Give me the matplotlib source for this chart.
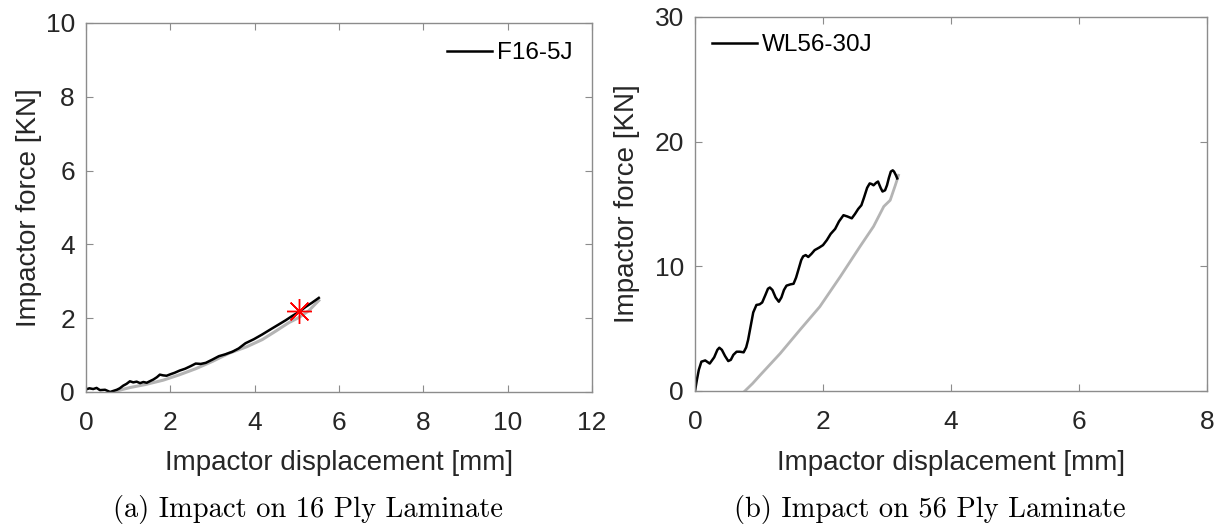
import numpy as np
import matplotlib.pyplot as plt

# Panel (a): 16 ply laminate, 5 J
f16_load_x = [0.0, 0.08, 0.17, 0.25, 0.33, 0.45, 0.57, 0.65, 0.73, 0.80, 0.88, 0.96, 1.04,
              1.12, 1.20, 1.28, 1.36, 1.44, 1.51, 1.60, 1.68, 1.75, 1.83, 1.91, 2.00, 2.10,
              2.22, 2.35, 2.48, 2.60, 2.72, 2.84, 3.00, 3.15, 3.30, 3.47, 3.62, 3.78, 3.98,
              4.18, 4.38, 4.57, 4.73, 4.89, 5.05, 5.20, 5.36, 5.52]
f16_load_y = [0.07, 0.10, 0.08, 0.11, 0.05, 0.06, 0.00, 0.03, 0.06, 0.10, 0.17, 0.22, 0.29,
              0.26, 0.28, 0.24, 0.27, 0.25, 0.29, 0.34, 0.40, 0.47, 0.45, 0.44, 0.48, 0.52,
              0.58, 0.63, 0.70, 0.77, 0.76, 0.79, 0.88, 0.97, 1.02, 1.09, 1.18, 1.32, 1.43,
              1.56, 1.70, 1.83, 1.94, 2.06, 2.17, 2.30, 2.42, 2.55]
f16_unload_x = [5.52, 5.28, 5.05, 4.81, 4.50, 4.18, 3.80, 3.39, 3.00, 2.60, 2.20, 1.83, 1.40, 1.04, 0.80, 0.65]
f16_unload_y = [2.48, 2.20, 2.02, 1.88, 1.65, 1.42, 1.22, 1.05, 0.83, 0.63, 0.46, 0.32, 0.20, 0.12, 0.05, 0.0]
f16_mark = (5.06, 2.2)

# Panel (b): 56 ply laminate, 30 J
wl56_load_x = [0.0, 0.03, 0.06, 0.10, 0.16, 0.23, 0.30, 0.35, 0.38, 0.42, 0.47, 0.52, 0.56,
               0.60, 0.65, 0.70, 0.76, 0.80, 0.83, 0.87, 0.91, 0.96, 1.01, 1.05, 1.10, 1.14,
               1.17, 1.21, 1.26, 1.31, 1.35, 1.39, 1.43, 1.49, 1.54, 1.58, 1.62, 1.66, 1.69,
               1.73, 1.77, 1.82, 1.87, 1.94, 2.00, 2.06, 2.12, 2.19, 2.25, 2.32, 2.38, 2.45,
               2.50, 2.55, 2.60, 2.64, 2.69, 2.73, 2.76, 2.79, 2.83, 2.86, 2.90, 2.93, 2.97,
               3.00, 3.03, 3.06, 3.09, 3.11, 3.14, 3.16]
wl56_load_y = [0.0, 0.9, 1.7, 2.35, 2.45, 2.2, 2.7, 3.3, 3.47, 3.3, 2.8, 2.4, 2.5,
               2.9, 3.15, 3.15, 3.1, 3.5, 4.1, 5.2, 6.3, 6.9, 6.95, 7.1, 7.7, 8.2,
               8.3, 8.1, 7.5, 7.16, 7.5, 8.1, 8.45, 8.55, 8.6, 9.1, 9.8, 10.5, 10.8,
               10.9, 10.75, 11.0, 11.3, 11.5, 11.7, 12.1, 12.6, 13.0, 13.6, 14.1, 14.0, 13.85,
               14.2, 14.6, 14.9, 15.5, 16.3, 16.65, 16.6, 16.5, 16.7, 16.8, 16.3, 16.0, 16.1,
               16.5, 17.1, 17.6, 17.7, 17.6, 17.3, 17.05]
wl56_unload_x = [3.18, 3.13, 3.05, 2.95, 2.79, 2.58, 2.27, 1.95, 1.64, 1.33, 1.02, 0.90, 0.78]
wl56_unload_y = [17.3, 16.5, 15.3, 14.8, 13.2, 11.6, 9.17, 6.76, 4.9, 3.0, 1.28, 0.6, 0.0]

plt.rcParams['font.family'] = ['Liberation Sans', 'DejaVu Sans']
spine_col = '#8c8c8c'
text_col = '#262626'

fig = plt.figure(figsize=(12.24, 5.26), dpi=100)
ax1 = fig.add_axes([0.0703, 0.2548, 0.4134, 0.7015])
ax2 = fig.add_axes([0.5678, 0.2567, 0.4183, 0.711])


def style_axes(ax, ylab_x):
    for s in ax.spines.values():
        s.set_color(spine_col)
        s.set_linewidth(1.0)
    ax.tick_params(direction='in', top=True, right=True, length=5, width=0.8,
                   color=spine_col, labelcolor=text_col, labelsize=19)
    ax.tick_params(axis='x', pad=14)
    ax.tick_params(axis='y', pad=8)
    ax.set_xlabel('Impactor displacement [mm]', fontsize=20, color=text_col, va='top')
    ax.set_ylabel('Impactor force [KN]', fontsize=20, color=text_col)
    ax.xaxis.set_label_coords(0.5, -0.157)
    ax.yaxis.set_label_coords(ylab_x, 0.5)


ax1.plot(f16_unload_x, f16_unload_y, color='#b4b4b4', lw=2.2)
ax1.plot(f16_load_x, f16_load_y, color='black', lw=1.8, label='F16-5J')
ax1.plot(*f16_mark, marker=(8, 2, 0), color='red', markersize=18, markeredgewidth=1.0, ls='none')
ax1.set_xlim(0, 12)
ax1.set_ylim(0, 10)
ax1.set_xticks(np.arange(0, 13, 2))
ax1.set_yticks(np.arange(0, 11, 2))
style_axes(ax1, -0.087)
ax1.legend(loc='upper right', frameon=False, fontsize=17.5, handlelength=1.85, handletextpad=0.2,
           borderpad=0.4, borderaxespad=0.4)

ax2.plot(wl56_unload_x, wl56_unload_y, color='#b4b4b4', lw=2.0)
ax2.plot(wl56_load_x, wl56_load_y, color='black', lw=1.8, label='WL56-30J')
ax2.set_xlim(0, 8)
ax2.set_ylim(0, 30)
ax2.set_xticks(np.arange(0, 9, 2))
ax2.set_yticks([0, 10, 20, 30])
style_axes(ax2, -0.107)
ax2.legend(loc='upper left', frameon=False, fontsize=17.5, handlelength=1.85, handletextpad=0.2,
           borderpad=0.4, borderaxespad=0.3)

fig.text(0.252, 0.0171, '(a) Impact on 16 Ply Laminate', family='cmr10', fontsize=20.5,
         ha='center', va='baseline')
fig.text(0.76, 0.0171, '(b) Impact on 56 Ply Laminate', family='cmr10', fontsize=20.5,
         ha='center', va='baseline')

fig.savefig('out.png', dpi=100)
